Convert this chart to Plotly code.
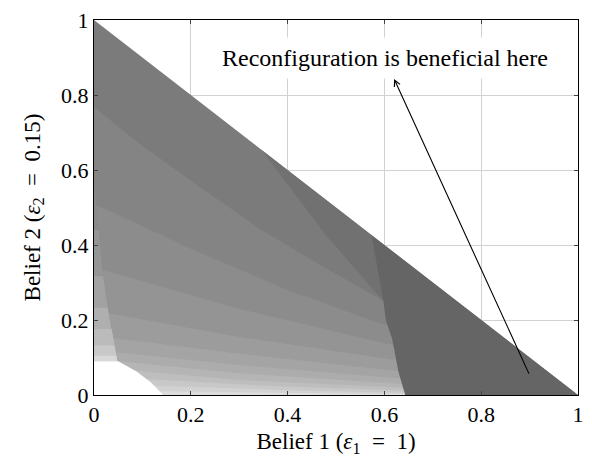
import plotly.graph_objects as go

# ---------------- data ----------------
# simplex corners (belief 1 + belief 2 <= 1)
simplex_x = [0, 1, 0]
simplex_y = [0, 0, 1]
base_color = "#7b7b7b"

# band boundaries of the main fan (left -> right), painted from dark to light
band_A_x = [0.0, 0.088, 0.20, 0.34, 0.47, 0.600]
band_A_y = [0.768, 0.676, 0.572, 0.445, 0.345, 0.250]
band_B_x = [0.0, 0.20, 0.40, 0.605]
band_B_y = [0.510, 0.390, 0.280, 0.185]
band_C_x = [0.0, 0.30, 0.610]
band_C_y = [0.340, 0.230, 0.135]
band_D_x = [0.0, 0.30, 0.615]
band_D_y = [0.225, 0.155, 0.095]
band_E_x = [0.0, 0.30, 0.620]
band_E_y = [0.158, 0.110, 0.065]
band_F_x = [0.0, 0.30, 0.625]
band_F_y = [0.120, 0.080, 0.045]
band_G_x = [0.0, 0.30, 0.630]
band_G_y = [0.097, 0.058, 0.030]
band_H_x = [0.0, 0.30, 0.635]
band_H_y = [0.075, 0.040, 0.020]
band_I_x = [0.0, 0.35, 0.640]
band_I_y = [0.050, 0.025, 0.012]
band_J_x = [0.0, 0.40, 0.642]
band_J_y = [0.030, 0.013, 0.006]
band_K_x = [0.0, 0.45, 0.645]
band_K_y = [0.012, 0.006, 0.002]
band_colors = ["#848484", "#8c8c8c", "#949494", "#9c9c9c", "#a4a4a4", "#acacac",
               "#b5b5b5", "#bebebe", "#c8c8c8", "#d2d2d2", "#dddddd"]

# thin sliver along the belief-2 axis (left of the kink line)
kink_x = [0.0, 0.005, 0.017, 0.030, 0.040, 0.048]
kink_y = [0.563, 0.505, 0.334, 0.220, 0.153, 0.090]
sliver_levels = [0.563, 0.440, 0.317, 0.233, 0.176, 0.132, 0.105]
sliver_colors = ["#8a8a8a", "#959595", "#a2a2a2", "#afafaf", "#bbbbbb", "#c8c8c8", "#d8d8d8"]

# white area near the origin
blank_x = [0.0, 0.0, 0.050, 0.088, 0.119, 0.136, 0.143]
blank_y = [0.0, 0.090, 0.090, 0.063, 0.032, 0.010, 0.0]

# wedge next to the reconfiguration region
wedge_x = [0.347, 0.480, 0.598]
wedge_y = [0.653, 0.425, 0.250]
wedge_color = "#717171"

# boundary of the reconfiguration region
reconf_x = [0.573, 0.586, 0.598, 0.603, 0.616, 0.629, 0.643]
reconf_y = [0.427, 0.330, 0.250, 0.200, 0.150, 0.062, 0.0]
reconf_color = "#656565"

tick_vals = [0, 0.2, 0.4, 0.6, 0.8, 1]
tick_text = ["0", "0.2", "0.4", "0.6", "0.8", "1"]

note_text = "Reconfiguration is beneficial here"
note_pos = (0.602, 0.9)
arrow_head = (0.62, 0.843)
arrow_tail = (0.90, 0.053)

# ---------------- figure ----------------
fig = go.Figure()


def poly(xs, ys, color):
    fig.add_trace(go.Scatter(x=xs, y=ys, mode="lines", fill="toself",
                             fillcolor=color, line=dict(width=0, color=color),
                             hoverinfo="skip", showlegend=False))


poly(simplex_x, simplex_y, base_color)

bands = [(band_A_x, band_A_y), (band_B_x, band_B_y), (band_C_x, band_C_y),
         (band_D_x, band_D_y), (band_E_x, band_E_y), (band_F_x, band_F_y),
         (band_G_x, band_G_y), (band_H_x, band_H_y), (band_I_x, band_I_y),
         (band_J_x, band_J_y), (band_K_x, band_K_y)]
x_past = 0.66  # hidden under the reconfiguration region
for (bx, by), col in zip(bands, band_colors):
    poly(bx + [x_past, x_past, 0], by + [by[-1], 0, 0], col)

for lev, col in zip(sliver_levels, sliver_colors):
    # kink x at this level (linear between kink points)
    kx = kink_x[-1]
    for i in range(len(kink_y) - 1):
        if kink_y[i] >= lev >= kink_y[i + 1]:
            t = (kink_y[i] - lev) / (kink_y[i] - kink_y[i + 1])
            kx = kink_x[i] + t * (kink_x[i + 1] - kink_x[i])
            break
    below = [(x, y) for x, y in zip(kink_x, kink_y) if y < lev]
    xs = [0, kx] + [p[0] for p in below] + [0]
    ys = [lev, lev] + [p[1] for p in below] + [kink_y[-1]]
    poly(xs, ys, col)

poly(blank_x, blank_y, "white")

# wedge: wedge line down to the reconfiguration boundary, then back up along it
wx = wedge_x + [x for x, y in zip(reconf_x, reconf_y) if y > wedge_y[-1]][::-1]
wy = wedge_y + [y for x, y in zip(reconf_x, reconf_y) if y > wedge_y[-1]][::-1]
poly(wx, wy, wedge_color)

poly(reconf_x + [1], reconf_y + [0], reconf_color)

font_main = "Liberation Serif, Times New Roman, serif"

fig.add_annotation(x=arrow_head[0], y=arrow_head[1], ax=arrow_tail[0], ay=arrow_tail[1],
                   xref="x", yref="y", axref="x", ayref="y", text="",
                   showarrow=True, arrowhead=5, arrowsize=1.1, arrowwidth=1.1,
                   arrowcolor="black", standoff=0)
fig.add_annotation(x=note_pos[0], y=note_pos[1], xref="x", yref="y", text=note_text,
                   showarrow=False, bgcolor="white", borderpad=7,
                   font=dict(family=font_main, size=24, color="black"))

axis_common = dict(range=[0, 1], tickvals=tick_vals, ticktext=tick_text,
                   showgrid=True, gridcolor="#d2d2d2", gridwidth=1,
                   showline=True, linecolor="black", linewidth=1, mirror="ticks",
                   ticks="inside", ticklen=4, tickcolor="#444", zeroline=False,
                   tickfont=dict(family=font_main, size=22, color="black"))

fig.update_xaxes(**axis_common,
                 title=dict(text="Belief 1 (<i>ε</i><sub>1</sub>  =  1)", standoff=6,
                            font=dict(family=font_main, size=23, color="black")))
fig.update_yaxes(**axis_common,
                 title=dict(text="Belief 2 (<i>ε</i><sub>2</sub>  =  0.15)", standoff=14,
                            font=dict(family=font_main, size=23, color="black")))

fig.update_layout(width=592, height=458, margin=dict(l=94, r=8, t=17, b=61),
                  paper_bgcolor="white", plot_bgcolor="white", showlegend=False)

fig.write_html("out.html")
